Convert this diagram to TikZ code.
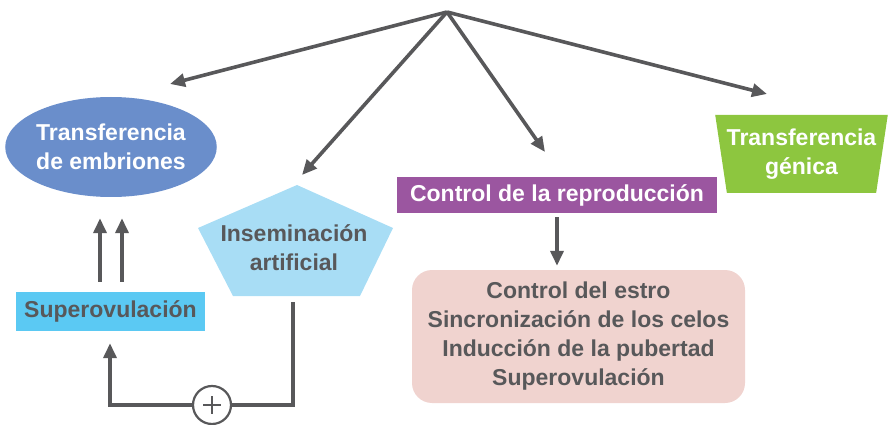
\documentclass[tikz,border=0pt]{standalone}
\usepackage{fontspec}
\setmainfont{Liberation Sans}
\usetikzlibrary{arrows.meta}
\usetikzlibrary{shapes.geometric}
\usetikzlibrary{calc}
\definecolor{lineg}{RGB}{88,88,90}
\definecolor{embblue}{RGB}{106,142,203}
\definecolor{supblue}{RGB}{91,201,243}
\definecolor{insblue}{RGB}{168,221,245}
\definecolor{repurple}{RGB}{155,86,160}
\definecolor{methpink}{RGB}{240,211,207}
\definecolor{genegreen}{RGB}{141,198,63}

\begin{document}
\begin{tikzpicture}[x=1pt,y=-1pt,
    font=\fontsize{23}{29}\selectfont\bfseries,
    link/.style={draw=lineg,line width=3.6pt,-{Triangle[length=15pt,width=13pt]}},
    wire/.style={draw=lineg,line width=3.6pt}]
    \useasboundingbox (0,0) rectangle (895,425);
    \coordinate (top) at (447,12);
    \node[ellipse,fill=embblue,text=white,align=center,inner sep=0,
      minimum width=198,minimum height=100] (embr) at (111,147) {Transferencia\\de embriones};
    \node[fill=supblue,text=lineg,inner sep=0,
      minimum width=189,minimum height=39] (superov) at (110.5,311.5) {Superovulaci\'on};
    \fill[insblue] (297,185) -- (393,228) -- (360,296) -- (233,296) -- (198,228) -- cycle;
    \node[text=lineg,align=center] (insem) at (294,248) {Inseminaci\'on\\artificial};
    \node[fill=repurple,text=white,inner sep=0,
      minimum width=320,minimum height=36] (repro) at (557,195) {Control de la reproducci\'on};
    \node[fill=methpink,text=lineg,align=center,rounded corners=20pt,inner sep=0,
      minimum width=333,minimum height=133] (methods) at (578.5,336.5)
      {Control del estro\\Sincronizaci\'on de los celos\\Inducci\'on de la pubertad\\Superovulaci\'on};
    \node[trapezium,shape border rotate=180,trapezium stretches=true,trapezium angle=77,
      fill=genegreen,text=white,align=center,inner sep=0,
      minimum width=173,minimum height=78] (genica) at (801.5,154) {Transferencia\\g\'enica};
    \coordinate (tipembr) at (170,84);
    \coordinate (tipinsem) at (302,175);
    \coordinate (tiprepro) at (545,152);
    \coordinate (tipgenica) at (767,94);
    \draw[link] (top) -- (tipembr);
    \draw[link] (top) -- (tipinsem);
    \draw[link] (top) -- (tiprepro);
    \draw[link] (top) -- (tipgenica);
    \draw[link] ($(superov.north)+(-10.5,-10)$) -- ($(embr.south)+(-11,21)$);
    \draw[link] ($(superov.north)+(11.5,-10)$) -- ($(embr.south)+(11,21)$);
    \draw[link,shorten <=4pt,shorten >=4pt] (repro.south) -- (repro.south |- methods.north);
    \coordinate (loopstart) at (293,302);
    \node[circle,draw=lineg,line width=2.2pt,fill=white,inner sep=0,minimum size=38,
      font=\fontsize{28}{28}\selectfont] (plus) at (212,405) {};
    \draw[wire] (loopstart) |- (plus.east);
    \draw[link] (plus.west) -| ($(superov.south)+(-0.5,12)$);
    \draw[lineg,line width=2.2pt] ($(plus.center)+(-9,0)$) -- ($(plus.center)+(9,0)$)
      ($(plus.center)+(0,-9)$) -- ($(plus.center)+(0,9)$);
\end{tikzpicture}
\end{document}
